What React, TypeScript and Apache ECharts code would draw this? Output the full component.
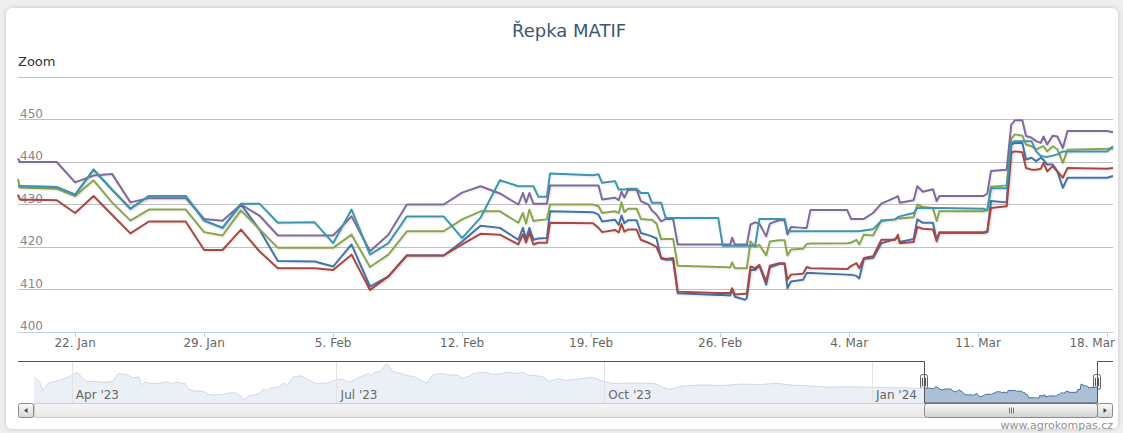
import React, { useEffect, useRef } from 'react';
import * as echarts from 'echarts';

const DAY = 86400000;
const Y2024 = Date.UTC(2024, 0, 1);
const doyToTs = (d: number) => Y2024 + (d - 1) * DAY;
const FONT = 'DejaVu Sans';
const MONTHS = ['Jan', 'Feb', 'Mar', 'Apr', 'May', 'Jun', 'Jul', 'Aug', 'Sep', 'Oct', 'Nov', 'Dec'];

// time stamps of the main chart, as day of year 2024 (decimal), shared by all five series
const dayOfYear = [
  18.9, 19.0, 21.0, 22.0, 23.0, 24.0, 25.0, 26.0, 28.0, 29.0, 30.0, 31.0, 32.0, 33.0, 35.0, 36.0, 37.0, 38.0, 39.0, 40.0,
  42.0, 43.0, 44.0, 45.05, 46.05, 46.3, 46.47, 46.65, 46.87, 47.14, 47.6, 47.77, 50.1, 50.4, 50.6, 51.3, 51.5, 51.65, 51.8, 52.0,
  52.47, 52.7, 53.1, 53.3, 53.55, 53.8, 54.05, 54.45, 54.7, 56.9, 57.14, 57.55, 57.65, 57.8, 58.35, 58.45, 58.65, 58.9, 59.13, 59.5,
  59.7, 60.2, 60.5, 60.65, 60.85, 61.5, 61.7, 61.9, 63.9, 64.1, 64.4, 64.55, 64.8, 65.3, 65.75, 66.5, 66.65, 66.75, 67.5, 67.7,
  68.0, 68.55, 68.75, 68.9, 71.3, 71.5, 71.7, 72.55, 72.8, 73.0, 73.4, 73.6, 73.9, 74.15, 74.4, 74.55, 74.75, 75.05, 75.3, 75.6,
  75.85, 78.0, 78.32,
];
const blueValues = [
  434.3, 434.3, 434.1, 432.3, 438.2, 433.5, 429.0, 432.0, 432.0, 426.2, 424.5, 430.0, 424.1, 416.7, 416.6, 415.4, 420.6, 410.7, 413.1, 418.0,
  418.0, 421.3, 425.0, 424.5, 421.7, 424.5, 421.9, 424.5, 421.7, 422.0, 422.1, 428.4, 428.2, 427.6, 426.0, 426.4, 425.2, 427.4, 425.6, 426.3,
  426.3, 423.3, 422.8, 422.5, 422.0, 417.3, 417.0, 417.0, 409.1, 408.7, 408.7, 408.6, 410.0, 408.3, 407.6, 408.0, 414.6, 414.6, 415.6, 411.1,
  415.2, 416.0, 416.0, 410.3, 411.9, 412.3, 413.9, 413.9, 413.5, 413.5, 413.2, 412.6, 417.2, 417.4, 420.9, 421.9, 422.3, 421.2, 421.9, 426.5,
  425.7, 425.7, 421.7, 423.3, 423.3, 423.5, 430.8, 430.5, 444.1, 444.5, 444.5, 440.6, 441.0, 440.2, 441.0, 440.5, 439.4, 439.4, 437.8, 433.9,
  436.3, 436.3, 436.7,
];
const redValues = [
  432.3, 431.2, 431.0, 428.0, 432.0, 427.6, 423.2, 426.0, 426.0, 419.3, 419.3, 424.1, 419.0, 415.0, 415.0, 414.6, 418.2, 409.9, 413.1, 418.0,
  418.0, 420.6, 423.1, 422.9, 420.6, 423.0, 421.0, 423.3, 420.6, 421.0, 421.0, 425.7, 425.6, 424.5, 423.5, 424.0, 423.4, 425.4, 423.6, 424.1,
  424.1, 421.7, 421.0, 420.6, 420.0, 417.5, 417.2, 417.4, 409.5, 409.2, 409.2, 409.2, 410.3, 408.8, 409.0, 409.0, 415.4, 415.0, 415.8, 411.9,
  415.6, 416.2, 416.2, 412.3, 413.5, 413.7, 415.3, 415.0, 414.8, 415.5, 416.2, 415.0, 417.4, 417.8, 421.7, 421.7, 422.9, 420.9, 421.2, 424.7,
  424.3, 424.1, 421.3, 423.5, 423.5, 423.7, 429.2, 429.6, 442.2, 442.5, 442.3, 438.6, 438.2, 438.2, 438.4, 439.8, 437.8, 439.0, 437.8, 436.3,
  438.6, 438.4, 438.6,
];
const greenValues = [
  436.0, 434.0, 433.7, 432.0, 435.7, 430.5, 426.2, 428.8, 428.8, 423.5, 422.7, 428.6, 424.2, 419.8, 419.8, 419.8, 422.9, 415.3, 418.2, 423.7,
  423.7, 426.5, 428.4, 428.4, 425.7, 428.0, 425.5, 428.8, 426.1, 426.3, 426.5, 430.0, 430.0, 429.6, 428.0, 428.4, 428.0, 430.5, 428.2, 429.0,
  429.0, 426.6, 426.4, 426.4, 425.5, 421.8, 421.9, 421.9, 415.6, 415.3, 415.3, 415.2, 416.4, 415.0, 415.0, 415.0, 421.3, 420.1, 420.5, 418.0,
  421.3, 421.6, 421.6, 418.0, 419.4, 419.6, 420.7, 420.8, 420.9, 421.0, 421.7, 420.6, 422.9, 422.7, 426.3, 426.5, 426.9, 426.7, 427.0, 430.0,
  429.4, 429.2, 426.1, 428.4, 428.4, 428.8, 434.2, 434.5, 445.5, 446.5, 446.2, 444.1, 443.7, 442.9, 443.5, 443.7, 442.5, 443.7, 443.0, 439.8,
  442.9, 443.1, 443.2,
];
const purpleValues = [
  440.8, 440.0, 440.0, 435.2, 436.8, 437.2, 430.5, 431.5, 431.5, 426.6, 426.2, 430.0, 427.4, 422.7, 422.7, 422.7, 427.2, 419.0, 422.9, 430.0,
  430.0, 432.8, 434.3, 432.6, 430.0, 432.7, 430.4, 432.7, 430.2, 430.2, 430.2, 434.5, 434.5, 434.5, 431.2, 431.6, 431.0, 433.0, 431.6, 433.4,
  433.5, 430.8, 430.0, 428.6, 427.6, 426.0, 426.6, 426.6, 420.6, 420.6, 420.6, 420.6, 422.2, 420.6, 420.6, 420.6, 425.3, 425.8, 425.5, 422.5,
  425.5, 426.3, 426.3, 422.9, 424.7, 424.5, 424.5, 428.7, 428.7, 426.6, 426.6, 426.6, 426.6, 428.0, 430.2, 431.6, 432.0, 430.4, 431.0, 434.3,
  433.0, 433.6, 430.8, 432.0, 432.0, 432.6, 437.9, 438.2, 448.8, 449.8, 449.8, 446.1, 445.7, 444.9, 444.5, 446.0, 444.1, 446.2, 446.0, 443.3,
  447.3, 447.3, 447.0,
];
const tealValues = [
  434.3, 434.3, 434.1, 432.3, 438.2, 433.5, 429.0, 432.0, 432.0, 426.2, 424.5, 430.2, 430.2, 425.7, 425.8, 420.9, 428.8, 418.2, 420.9, 427.2,
  427.2, 422.1, 426.9, 435.7, 434.3, 434.3, 434.3, 434.3, 434.3, 431.8, 431.8, 437.3, 436.9, 437.1, 435.1, 435.5, 433.5, 433.6, 433.5, 433.7,
  433.7, 432.7, 432.7, 430.4, 430.4, 430.4, 426.8, 426.8, 426.8, 426.8, 420.3, 420.3, 420.3, 420.3, 420.3, 420.3, 420.3, 420.3, 426.6, 426.6,
  426.6, 426.6, 426.6, 423.7, 423.7, 423.7, 423.7, 423.7, 423.7, 423.7, 423.7, 423.7, 423.9, 424.2, 426.1, 426.5, 427.0, 427.2, 428.0, 429.2,
  429.2, 429.2, 429.2, 429.2, 429.0, 428.6, 433.8, 433.8, 444.5, 444.9, 444.9, 444.9, 444.9, 442.5, 441.4, 441.3, 441.2, 441.5, 441.8, 442.5,
  442.5, 442.5, 443.7,
];
const seriesColors = ['#4572A7', '#AA4643', '#89A54E', '#80699B', '#3D96AE'];
const seriesNames = ['Řepka 1', 'Řepka 2', 'Řepka 3', 'Řepka 4', 'Řepka 5'];

// x tick labels of the main chart (Mondays, day of year 2024)
const mondayTicks = [22, 29, 36, 43, 50, 57, 64, 71, 78];
const yMin = 400;
const yMax = 460;
const yStep = 10;

// navigator history (before the zoomed window)
const navDates = [
  '2023-03-19', '2023-03-21', '2023-03-22', '2023-03-24', '2023-03-26', '2023-03-29', '2023-03-31', '2023-04-01', '2023-04-03', '2023-04-04',
  '2023-04-06', '2023-04-09', '2023-04-12', '2023-04-15', '2023-04-17', '2023-04-20', '2023-04-22', '2023-04-24', '2023-04-25', '2023-04-26',
  '2023-04-29', '2023-05-02', '2023-05-04', '2023-05-05', '2023-05-07', '2023-05-10', '2023-05-11', '2023-05-13', '2023-05-16', '2023-05-18',
  '2023-05-20', '2023-05-23', '2023-05-25', '2023-05-27', '2023-05-29', '2023-05-30', '2023-06-01', '2023-06-04', '2023-06-06', '2023-06-07',
  '2023-06-08', '2023-06-11', '2023-06-13', '2023-06-14', '2023-06-16', '2023-06-19', '2023-06-21', '2023-06-24', '2023-06-26', '2023-06-28',
  '2023-06-30', '2023-07-03', '2023-07-05', '2023-07-07', '2023-07-09', '2023-07-12', '2023-07-13', '2023-07-14', '2023-07-16', '2023-07-18',
  '2023-07-19', '2023-07-20', '2023-07-22', '2023-07-25', '2023-07-28', '2023-07-31', '2023-08-01', '2023-08-03', '2023-08-06', '2023-08-08',
  '2023-08-12', '2023-08-13', '2023-08-16', '2023-08-17', '2023-08-21', '2023-08-24', '2023-08-27', '2023-08-29', '2023-09-01', '2023-09-03',
  '2023-09-05', '2023-09-08', '2023-09-10', '2023-09-12', '2023-09-15', '2023-09-18', '2023-09-27', '2023-10-01', '2023-10-04', '2023-10-12',
  '2023-10-18', '2023-10-23', '2023-10-28', '2023-11-04', '2023-11-10', '2023-11-17', '2023-11-24', '2023-11-29', '2023-12-05', '2023-12-11',
  '2023-12-17', '2023-12-24', '2023-12-30', '2024-01-05', '2024-01-12', '2024-01-17',
];
const navValues = [
  464, 450, 428, 448, 452, 458, 464, 468, 476, 467,
  452, 452, 450, 452, 473, 470, 461, 464, 443, 450,
  446, 448, 452, 445, 450, 446, 432, 427, 426, 418,
  416, 418, 421, 423, 414, 403, 414, 418, 432, 428,
  434, 437, 448, 441, 464, 467, 458, 446, 448, 448,
  455, 458, 450, 455, 464, 473, 468, 476, 478, 498,
  494, 478, 476, 468, 464, 450, 448, 470, 473, 470,
  468, 459, 468, 473, 476, 470, 473, 476, 473, 476,
  468, 467, 464, 452, 459, 455, 463, 451, 447, 448,
  447, 431, 440, 443, 441, 445, 444, 447, 442, 440,
  437, 438, 437, 436, 435, 434,
];
const navLabelDates = ['2023-04-01', '2023-07-01', '2023-10-01', '2024-01-01'];
const navStart = '2023-03-19';

const fmtDay = (v: number) => {
  const d = new Date(v);
  return d.getUTCDate() + '. ' + MONTHS[d.getUTCMonth()];
};

export default function App() {
  const ref = useRef<HTMLDivElement>(null);

  useEffect(() => {
    if (!ref.current) return;
    const chart = echarts.init(ref.current, null, { renderer: 'svg' });
    const mainMin = doyToTs(dayOfYear[0]);
    const mainMax = doyToTs(dayOfYear[dayOfYear.length - 1]);
    const times = dayOfYear.map(doyToTs);
    const valueSets = [blueValues, redValues, greenValues, purpleValues, tealValues];
    const mainSeries = valueSets.map((vals, k) => ({
      type: 'line',
      name: seriesNames[k],
      xAxisIndex: 0,
      yAxisIndex: 0,
      data: times.map((t, i) => [t, vals[i]]),
      symbol: 'none',
      showSymbol: false,
      silent: true,
      lineStyle: {
        width: 2,
        color: seriesColors[k],
        join: 'round',
        shadowColor: 'rgba(0,0,0,0.1)',
        shadowBlur: 2,
        shadowOffsetX: 1,
        shadowOffsetY: 1,
      },
      z: 2 + k,
    }));
    const blueData = times.map((t, i) => [t, blueValues[i]]);
    const navHist = navDates.map((d, i) => [Date.parse(d), navValues[i]]);
    const navAll = navHist.concat(blueData);
    const mondayTs = mondayTicks.map(doyToTs);
    const lastTick = mondayTs[mondayTs.length - 1];
    const navTickTs = navLabelDates.map((d) => Date.parse(d));

    chart.setOption({
      animation: false,
      title: {
        text: 'Řepka MATIF',
        left: 507,
        top: 16,
        textStyle: { fontFamily: FONT, fontSize: 18, fontWeight: 'normal', color: '#3E576F' },
      },
      grid: [
        { left: 18, top: 77, width: 1095, height: 255, outerBoundsMode: 'none', containLabel: false },
        { left: 34, top: 361, width: 1063, height: 42, outerBoundsMode: 'none', containLabel: false },
      ],
      xAxis: [
        {
          type: 'value',
          gridIndex: 0,
          min: mainMin,
          max: mainMax,
          axisLine: { lineStyle: { color: '#C0D0E0', width: 1 } },
          axisTick: { customValues: mondayTs, length: 5, lineStyle: { color: '#C0D0E0' } },
          axisLabel: {
            customValues: mondayTs,
            // the last label is shifted inside the chart (drawn below as a graphic text)
            formatter: (v: number) => (v === lastTick ? '' : fmtDay(v)),
            color: '#666',
            fontFamily: FONT,
            fontSize: 12,
            margin: 5,
          },
          splitLine: { show: false },
        },
        {
          type: 'value',
          gridIndex: 1,
          min: Date.parse(navStart),
          max: mainMax,
          z: 5,
          axisLine: { show: false },
          axisTick: { customValues: navTickTs, inside: true, length: 42, lineStyle: { color: '#e2e2e2' } },
          axisLabel: {
            customValues: navTickTs,
            inside: true,
            formatter: (v: number) => {
              const d = new Date(v);
              return MONTHS[d.getUTCMonth()] + " '" + String(d.getUTCFullYear()).slice(2);
            },
            align: 'left',
            verticalAlign: 'bottom',
            margin: 2,
            padding: [0, 0, 0, 4],
            color: '#666',
            fontFamily: FONT,
            fontSize: 12,
          },
          splitLine: { show: false },
        },
      ],
      yAxis: [
        {
          type: 'value',
          gridIndex: 0,
          min: yMin,
          max: yMax,
          interval: yStep,
          axisLine: { show: false },
          axisTick: { show: false },
          axisLabel: {
            inside: true,
            align: 'left',
            verticalAlign: 'bottom',
            margin: 2,
            showMaxLabel: false,
            color: '#888',
            fontFamily: FONT,
            fontSize: 12,
          },
          splitLine: { lineStyle: { color: '#C0C0C0', width: 1 } },
        },
        { type: 'value', gridIndex: 1, min: 395.2, max: 506, show: false },
      ],
      series: [
        ...mainSeries,
        {
          type: 'line',
          xAxisIndex: 1,
          yAxisIndex: 1,
          data: navAll,
          symbol: 'none',
          silent: true,
          lineStyle: { width: 1, color: '#cdd8e7' },
          areaStyle: { color: '#ebf0f6', opacity: 1, origin: 'start' },
          z: 1,
        },
        {
          type: 'line',
          xAxisIndex: 1,
          yAxisIndex: 1,
          data: blueData,
          symbol: 'none',
          silent: true,
          lineStyle: { width: 1, color: '#4572A7' },
          areaStyle: { color: '#abbfd7', opacity: 1, origin: 'start' },
          z: 1,
        },
      ],
    });

    const h1 = chart.convertToPixel({ xAxisIndex: 1 }, mainMin) as number;
    const h2 = chart.convertToPixel({ xAxisIndex: 1 }, mainMax) as number;
    const navTop = 361;
    const navBottom = 403;
    const sbTop = 403.5;
    const sbH = 14;
    const grad = (a: string, b: string) =>
      new echarts.graphic.LinearGradient(0, 0, 0, 1, [
        { offset: 0, color: a },
        { offset: 1, color: b },
      ]);
    const handle = (x: number) => ({
      type: 'group',
      z: 20,
      children: [
        {
          type: 'rect',
          shape: { x: Math.round(x) - 3.5, y: 374.5, width: 7, height: 15, r: 2 },
          style: { fill: grad('#ffffff', '#e0e0e0'), stroke: '#666', lineWidth: 1 },
        },
        { type: 'line', shape: { x1: Math.round(x) - 1.5, y1: 378, x2: Math.round(x) - 1.5, y2: 386 }, style: { stroke: '#555', lineWidth: 1 } },
        { type: 'line', shape: { x1: Math.round(x) + 1.5, y1: 378, x2: Math.round(x) + 1.5, y2: 386 }, style: { stroke: '#555', lineWidth: 1 } },
      ],
    });
    const cx = Math.round((h1 + h2) / 2);
    chart.setOption({
      graphic: [
        {
          type: 'text',
          z: 20,
          style: { text: 'Zoom', x: 18, y: 61.5, verticalAlign: 'middle', fontFamily: FONT, fontSize: 13, fill: '#333' },
        },
        {
          type: 'text',
          z: 20,
          style: { text: fmtDay(lastTick), x: 1115, y: 337, align: 'right', verticalAlign: 'top', fontFamily: FONT, fontSize: 12, fill: '#666' },
        },
        {
          type: 'text',
          z: 20,
          style: { text: 'www.agrokompas.cz', x: 1113, y: 425, align: 'right', verticalAlign: 'middle', fontFamily: FONT, fontSize: 11, fill: '#909090' },
        },
        {
          type: 'rect',
          z: 15,
          shape: { x: 34.5, y: sbTop, width: 1062, height: sbH },
          style: { fill: grad('#f6f6f6', '#e6e6e6'), stroke: '#cccccc', lineWidth: 1 },
        },
        {
          type: 'rect',
          z: 16,
          shape: { x: Math.round(h1) + 0.5, y: sbTop, width: Math.round(h2) - Math.round(h1), height: sbH, r: 3 },
          style: { fill: grad('#fbfbfb', '#d2d2d2'), stroke: '#8a8a8a', lineWidth: 1 },
        },
        ...[-2, 0, 2].map((o) => ({
          type: 'line',
          z: 17,
          shape: { x1: cx + o + 0.5, y1: 407.5, x2: cx + o + 0.5, y2: 413.5 },
          style: { stroke: '#777', lineWidth: 1 },
        })),
        {
          type: 'rect',
          z: 16,
          shape: { x: 18.5, y: sbTop, width: 15, height: sbH, r: 2 },
          style: { fill: grad('#fbfbfb', '#d6d6d6'), stroke: '#8a8a8a', lineWidth: 1 },
        },
        {
          type: 'polygon',
          z: 17,
          shape: { points: [[27.5, 408], [27.5, 413], [24, 410.5]] },
          style: { fill: '#444' },
        },
        {
          type: 'rect',
          z: 16,
          shape: { x: 1097.5, y: sbTop, width: 15, height: sbH, r: 2 },
          style: { fill: grad('#fbfbfb', '#d6d6d6'), stroke: '#8a8a8a', lineWidth: 1 },
        },
        {
          type: 'polygon',
          z: 17,
          shape: { points: [[1103.5, 408], [1103.5, 413], [1107, 410.5]] },
          style: { fill: '#444' },
        },
        {
          type: 'polyline',
          z: 18,
          shape: {
            points: [
              [18, navTop + 0.5],
              [Math.round(h1) + 0.5, navTop + 0.5],
              [Math.round(h1) + 0.5, navBottom],
              [Math.round(h2) + 0.5, navBottom],
              [Math.round(h2) + 0.5, navTop + 0.5],
              [1113, navTop + 0.5],
            ],
          },
          style: { stroke: '#555', lineWidth: 1, fill: 'none' },
        },
        handle(h1),
        handle(h2),
      ],
    });

    return () => chart.dispose();
  }, []);

  return (
    <div style={{ position: 'fixed', left: 0, top: 0, width: 1123, height: 433, background: '#efefef', overflow: 'hidden' }}>
      <div
        style={{
          position: 'absolute',
          left: 6,
          top: 8,
          width: 1112,
          height: 421,
          background: '#ffffff',
          borderRadius: 6,
          boxShadow: '0 0 5px rgba(0,0,0,0.18)',
        }}
      />
      <div ref={ref} style={{ position: 'absolute', left: 0, top: 0, width: 1123, height: 433 }} />
    </div>
  );
}
